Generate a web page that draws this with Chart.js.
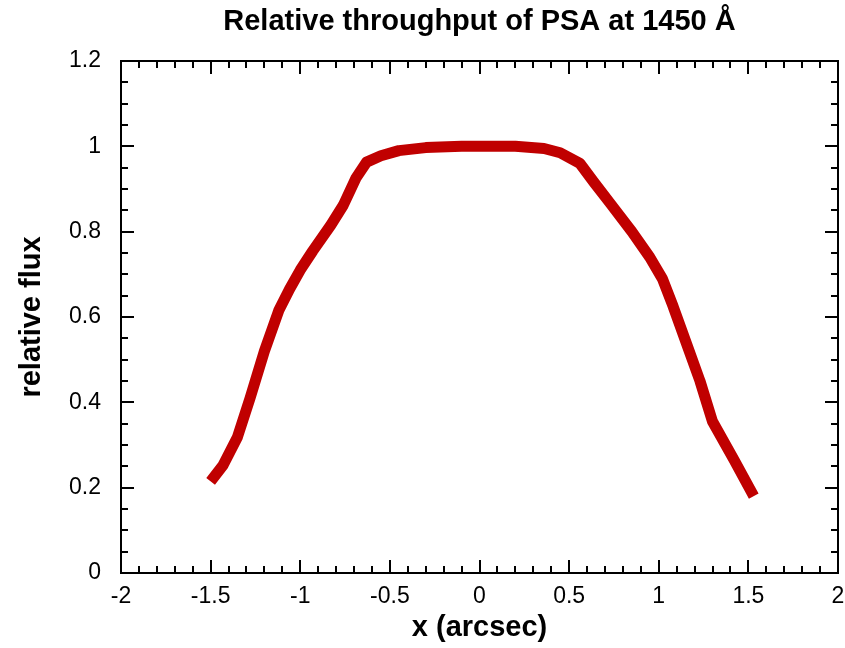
<!DOCTYPE html>
<html>
<head>
<meta charset="utf-8">
<script src="https://cdn.jsdelivr.net/npm/chart.js@4.4.1/dist/chart.umd.min.js"></script>
<style>
  html, body { margin: 0; padding: 0; background: #fff; }
  #wrap { width: 845px; height: 648px; }
</style>
</head>
<body>
<div id="wrap"><canvas id="chart" width="845" height="648"></canvas></div>
<script>
const FONT = "'Liberation Sans', Arial, Helvetica, sans-serif";

// position across the slit (arcsec) and relative flux
const xArcsec = [-1.5, -1.43, -1.35, -1.28, -1.2, -1.12, -1.06, -1.0, -0.93, -0.83, -0.76, -0.69,
  -0.63, -0.55, -0.45, -0.3, -0.1, 0, 0.2, 0.36, 0.45, 0.56, 0.64, 0.73, 0.85, 0.95, 1.02,
  1.08, 1.17, 1.23, 1.3, 1.42, 1.53];
const relFlux = [0.215, 0.253, 0.319, 0.41, 0.52, 0.615, 0.665, 0.71, 0.755, 0.815, 0.862, 0.925,
  0.963, 0.978, 0.99, 0.997, 1.0, 1.0, 1.0, 0.995, 0.985, 0.96, 0.915, 0.866, 0.8, 0.74, 0.69,
  0.625, 0.52, 0.45, 0.355, 0.265, 0.18];

// axis ranges and tick spacing
const xRange = [-2, 2];
const yRange = [0, 1.2];
const xMajor = 0.5, xMinor = 0.1;
const yMajor = 0.2, yMinor = 0.05;

const points = xArcsec.map((x, i) => ({ x: x, y: relFlux[i] }));
const plainLabel = (value) => String(Number(value.toFixed(2)));

// frame + inward ticks on all four sides, like the original plot
const frameTicks = {
  id: 'frameTicks',
  afterDatasetsDraw(chart) {
    const { ctx, chartArea: a, scales } = chart;
    const xs = scales.x, ys = scales.y;
    ctx.save();
    ctx.strokeStyle = '#000';
    ctx.lineWidth = 2;
    ctx.lineCap = 'butt';
    ctx.beginPath();
    const nx = Math.round((xRange[1] - xRange[0]) / xMinor);
    for (let i = 1; i < nx; i++) {
      const v = xRange[0] + i * xMinor;
      const len = (i % Math.round(xMajor / xMinor) === 0) ? 13 : 7;
      const px = Math.round(xs.getPixelForValue(v));
      ctx.moveTo(px, a.bottom); ctx.lineTo(px, a.bottom - len);
      ctx.moveTo(px, a.top); ctx.lineTo(px, a.top + len);
    }
    const ny = Math.round((yRange[1] - yRange[0]) / yMinor);
    for (let i = 1; i < ny; i++) {
      const v = yRange[0] + i * yMinor;
      const len = (i % Math.round(yMajor / yMinor) === 0) ? 13 : 7;
      const py = Math.round(ys.getPixelForValue(v));
      ctx.moveTo(a.left, py); ctx.lineTo(a.left + len, py);
      ctx.moveTo(a.right, py); ctx.lineTo(a.right - len, py);
    }
    ctx.stroke();
    ctx.strokeRect(a.left, a.top, a.right - a.left, a.bottom - a.top);
    ctx.restore();
  }
};

new Chart(document.getElementById('chart'), {
  type: 'scatter',
  data: {
    datasets: [{
      data: points,
      showLine: true,
      borderColor: '#c00000',
      backgroundColor: '#c00000',
      borderWidth: 11,
      borderCapStyle: 'butt',
      borderJoinStyle: 'round',
      pointRadius: 0,
      tension: 0,
    }],
  },
  options: {
    responsive: false,
    animation: false,
    layout: { padding: { left: 0, right: 7, top: 0, bottom: 0 } },
    plugins: {
      legend: { display: false },
      tooltip: { enabled: false },
      title: {
        display: true,
        text: 'Relative throughput of PSA at 1450 Å',
        fullSize: false,
        color: '#000',
        font: { family: FONT, size: 29, weight: 'bold' },
        padding: { top: 5, bottom: 21.2 },
      },
    },
    scales: {
      x: {
        type: 'linear',
        min: xRange[0],
        max: xRange[1],
        grid: { display: false, drawTicks: false },
        border: { display: false },
        ticks: { stepSize: xMajor, color: '#000', padding: 10, font: { family: FONT, size: 23 }, callback: plainLabel },
        title: {
          display: true,
          text: 'x (arcsec)',
          color: '#000',
          font: { family: FONT, size: 29, weight: 'bold' },
          padding: { top: 0, bottom: 3 },
        },
        afterFit: (scale) => { scale.height = 75; scale.paddingLeft = 0; scale.paddingRight = 0; },
      },
      y: {
        type: 'linear',
        min: yRange[0],
        max: yRange[1],
        grid: { display: false, drawTicks: false },
        border: { display: false },
        ticks: { stepSize: yMajor, color: '#000', padding: 20, font: { family: FONT, size: 23 }, callback: plainLabel },
        title: {
          display: true,
          text: 'relative flux',
          color: '#000',
          font: { family: FONT, size: 29, weight: 'bold' },
          padding: { top: 15, bottom: 0 },
        },
        afterFit: (scale) => { scale.width = 121; scale.paddingTop = 0; scale.paddingBottom = 0; },
      },
    },
  },
  plugins: [frameTicks],
});
</script>
</body>
</html>
